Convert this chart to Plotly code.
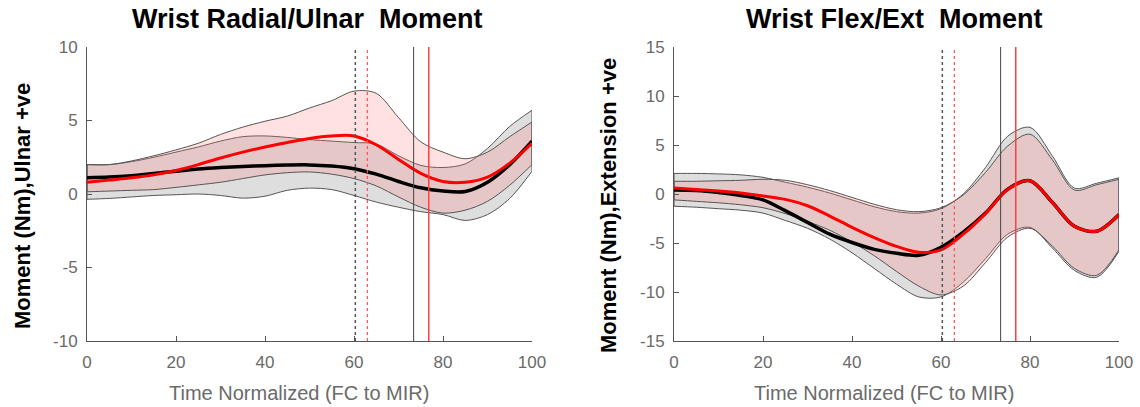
import plotly.graph_objects as go

# ---------------- data ----------------
X = [0, 5, 10, 15, 20, 25, 30, 35, 40, 45, 50, 55, 60, 65, 70, 75, 80, 85, 90, 95, 100]

# Left: Wrist Radial/Ulnar Moment
ru_black_mean = [1.1, 1.15, 1.25, 1.4, 1.55, 1.7, 1.8, 1.87, 1.93, 1.97, 1.98, 1.9, 1.72, 1.35, 0.85, 0.42, 0.2, 0.17, 0.8, 2.0, 3.6]
ru_black_upper = [2.0, 2.0, 2.2, 2.5, 2.85, 3.2, 3.6, 3.9, 3.95, 3.85, 3.7, 3.6, 3.5, 3.4, 2.6, 1.95, 1.8, 2.05, 3.1, 4.6, 5.7]
ru_black_lower = [-0.36, -0.3, -0.2, -0.1, -0.05, 0.0, -0.1, -0.28, -0.15, 0.25, 0.4, 0.3, -0.1, -0.55, -0.9, -1.2, -1.4, -1.8, -1.4, -0.3, 1.55]
ru_red_mean = [0.8, 0.95, 1.1, 1.3, 1.6, 2.0, 2.45, 2.85, 3.2, 3.5, 3.78, 3.95, 3.95, 3.35, 2.35, 1.4, 0.85, 0.8, 1.15, 2.1, 3.45]
ru_red_upper = [2.0, 2.0, 2.25, 2.6, 3.0, 3.45, 4.05, 4.55, 4.95, 5.3, 5.85, 6.35, 7.0, 6.85, 5.2, 3.55, 2.85, 2.4, 2.85, 3.9, 4.9]
ru_red_lower = [0.15, 0.2, 0.25, 0.3, 0.45, 0.62, 0.8, 1.05, 1.3, 1.45, 1.5, 1.35, 1.05, 0.55, -0.2, -0.9, -1.3, -1.1, -0.5, 0.6, 2.0]

# Right: Wrist Flex/Ext Moment
fe_black_mean = [0.4, 0.35, 0.15, -0.15, -0.6, -1.7, -2.9, -4.1, -4.95, -5.65, -6.05, -6.25, -5.45, -3.9, -1.95, 0.5, 1.35, -0.85, -3.3, -3.8, -2.1]
fe_black_upper = [2.1, 2.1, 2.05, 1.95, 1.7, 1.2, 0.7, 0.1, -0.6, -1.3, -1.8, -1.95, -1.5, 0.0, 2.7, 5.9, 6.8, 3.9, 0.6, 1.1, 1.65]
fe_black_lower = [-1.25, -1.35, -1.5, -1.65, -1.95, -2.7, -3.5, -4.6, -6.0, -7.6, -9.2, -10.5, -10.5, -9.0, -6.6, -4.1, -3.4, -5.5, -7.8, -8.5, -5.85]
fe_red_mean = [0.6, 0.45, 0.3, 0.1, -0.2, -0.55, -1.2, -2.25, -3.4, -4.45, -5.35, -5.95, -5.7, -4.1, -2.0, 0.45, 1.35, -0.85, -3.3, -3.8, -2.1]
fe_red_upper = [1.3, 1.3, 1.35, 1.4, 1.5, 1.4, 0.95, 0.35, -0.35, -1.05, -1.6, -1.8, -1.4, -0.1, 2.2, 4.9, 6.1, 3.5, 0.4, 0.95, 1.5]
fe_red_lower = [-0.6, -0.75, -0.9, -1.1, -1.4, -2.0, -2.8, -3.7, -4.9, -6.3, -7.9, -9.4, -10.3, -9.4, -7.0, -4.4, -3.5, -5.3, -7.6, -8.3, -5.7]

# event markers (% of cycle)
black_dotted_x = 60.3
red_dotted_x = 63.0
black_solid_x = 73.4
red_solid_x = 76.8

x_ticks = [0, 20, 40, 60, 80, 100]
ru_y_ticks = [-10, -5, 0, 5, 10]
fe_y_ticks = [-15, -10, -5, 0, 5, 10, 15]

titles = ["Wrist Radial/Ulnar\u00a0\u00a0Moment", "Wrist Flex/Ext\u00a0\u00a0Moment"]
ylabels = ["Moment (Nm),Ulnar +ve", "Moment (Nm),Extension +ve"]
xlabel = "Time Normalized (FC to MIR)"

# ---------------- figure ----------------
W, H = 1140, 407
FONT = "Liberation Sans, Arial, sans-serif"
EDGE = "#555555"
GRAY_FILL = "rgba(190,190,190,0.5)"
PINK_FILL = "rgba(255,120,120,0.22)"

fig = go.Figure()


def add_panel(xa, ya, bm, bu, bl, rm, ru, rl):
    common = dict(xaxis=xa, yaxis=ya, showlegend=False, hoverinfo="skip")
    spl = dict(shape="spline", smoothing=0.9)
    # gray band (black series)
    fig.add_trace(go.Scatter(x=X, y=bl, mode="lines", line=dict(color=EDGE, width=1, **spl), **common))
    fig.add_trace(go.Scatter(x=X, y=bu, mode="lines", line=dict(color=EDGE, width=1, **spl),
                             fill="tonexty", fillcolor=GRAY_FILL, **common))
    # pink band (red series)
    fig.add_trace(go.Scatter(x=X, y=rl, mode="lines", line=dict(color=EDGE, width=1, **spl), **common))
    fig.add_trace(go.Scatter(x=X, y=ru, mode="lines", line=dict(color=EDGE, width=1, **spl),
                             fill="tonexty", fillcolor=PINK_FILL, **common))
    # patch end edges
    for i in (0, -1):
        fig.add_trace(go.Scatter(x=[X[i], X[i]], y=[bl[i], bu[i]], mode="lines",
                                 line=dict(color=EDGE, width=1), **common))
        fig.add_trace(go.Scatter(x=[X[i], X[i]], y=[rl[i], ru[i]], mode="lines",
                                 line=dict(color=EDGE, width=1), **common))
    # means
    fig.add_trace(go.Scatter(x=X, y=bm, mode="lines", line=dict(color="black", width=3.5, **spl), **common))
    fig.add_trace(go.Scatter(x=X, y=rm, mode="lines", line=dict(color="#ff0000", width=3, **spl), **common))
    # event lines
    yref = ya + " domain"
    for xv, col, dash, w in [(black_dotted_x, "#555555", "dot", 1.5),
                             (red_dotted_x, "#ff5050", "dot", 1.2),
                             (black_solid_x, "#444444", "solid", 1),
                             (red_solid_x, "#ff4040", "solid", 1.5)]:
        fig.add_shape(type="line", xref=xa, yref=yref, x0=xv, x1=xv, y0=0, y1=1,
                      line=dict(color=col, width=w, dash=dash))


add_panel("x", "y", ru_black_mean, ru_black_upper, ru_black_lower, ru_red_mean, ru_red_upper, ru_red_lower)
add_panel("x2", "y2", fe_black_mean, fe_black_upper, fe_black_lower, fe_red_mean, fe_red_upper, fe_red_lower)

# plot-area positions (pixels in the 1140x407 page)
L1, R1 = 87, 532
L2, R2 = 674, 1119
TOP, BOT = 47, 341
yd = [1 - BOT / H, 1 - TOP / H]

axis_common = dict(showline=True, linecolor=EDGE, linewidth=1, ticks="inside", ticklen=5,
                   tickcolor=EDGE, tickwidth=1, showgrid=False, zeroline=False, automargin=False,
                   tickfont=dict(family=FONT, size=17, color="#6a6a6a"), mirror=False)


def fmt(v):
    return str(v).replace("\u2212", "-")


fig.update_layout(
    width=W, height=H, margin=dict(l=0, r=0, t=0, b=0, pad=0, autoexpand=False),
    paper_bgcolor="white", plot_bgcolor="white",
    xaxis=dict(domain=[L1 / W, R1 / W], range=[0, 100], tickvals=x_ticks, ticklabelstandoff=6,
               ticktext=[fmt(v) for v in x_ticks], anchor="y", **axis_common),
    yaxis=dict(domain=yd, range=[-10, 10], tickvals=ru_y_ticks, ticklabelstandoff=5,
               ticktext=[fmt(v) for v in ru_y_ticks], anchor="x", **axis_common),
    xaxis2=dict(domain=[L2 / W, R2 / W], range=[0, 100], tickvals=x_ticks, ticklabelstandoff=6,
                ticktext=[fmt(v) for v in x_ticks], anchor="y2", **axis_common),
    yaxis2=dict(domain=yd, range=[-15, 15], tickvals=fe_y_ticks, ticklabelstandoff=5,
                ticktext=[fmt(v) for v in fe_y_ticks], anchor="x2", **axis_common),
)

ann = []
for cx, t in zip([307, 894], titles):
    ann.append(dict(text="<b>%s</b>" % t, x=cx / W, y=1 - 19 / H, xref="paper", yref="paper",
                    xanchor="center", yanchor="middle", showarrow=False,
                    font=dict(family=FONT, size=27, color="black")))
for cx, t in zip([299, 884], [xlabel, xlabel]):
    ann.append(dict(text=t, x=cx / W, y=1 - 393 / H, xref="paper", yref="paper",
                    xanchor="center", yanchor="middle", showarrow=False,
                    font=dict(family=FONT, size=20, color="#6a6a6a")))
for lx, t in zip([22, 608], ylabels):
    ann.append(dict(text="<b>%s</b>" % t, x=lx / W, y=1 - 206 / H, xref="paper",
                    yref="paper", xanchor="center", yanchor="middle", showarrow=False,
                    textangle=-90, font=dict(family=FONT, size=22, color="black")))
fig.update_layout(annotations=ann)

fig.write_html("out.html", config={"displayModeBar": False},
               post_script="document.body.style.margin='0';document.body.style.overflow='hidden';")
